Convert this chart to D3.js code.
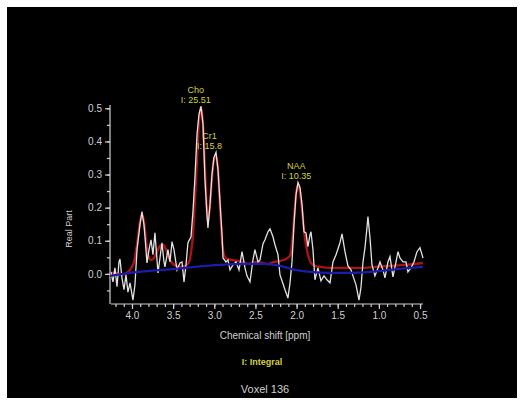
<!DOCTYPE html>
<html>
<head>
<meta charset="utf-8">
<script src="https://cdn.jsdelivr.net/npm/d3@7"></script>
<style>
  body { margin: 0; background: #ffffff; }
  text { font-family: "Liberation Sans", Arial, sans-serif; }
</style>
</head>
<body>
<div id="chart"></div>
<script>
// measured spectrum [ppm, real part]
var measured = [
  [4.255, 0.006], [4.231, -0.024], [4.207, 0.018], [4.182, -0.039], [4.158, 0.036],
  [4.146, 0.045], [4.122, -0.012], [4.097, -0.048], [4.073, -0.003], [4.049, -0.055],
  [4.024, -0.027], [3.988, -0.079], [3.964, -0.033], [3.939, 0.073], [3.903, 0.148],
  [3.879, 0.188], [3.854, 0.148], [3.842, 0.112], [3.818, 0.033], [3.793, 0.073],
  [3.769, 0.103], [3.745, 0.058], [3.721, 0.124], [3.696, 0.042], [3.684, 0.003],
  [3.660, 0.048], [3.636, 0.094], [3.611, 0.036], [3.599, 0.021], [3.563, 0.073],
  [3.538, 0.036], [3.514, 0.097], [3.490, 0.073], [3.453, 0.012], [3.417, 0.033],
  [3.392, 0.036], [3.368, -0.024], [3.344, 0.027], [3.320, 0.094], [3.283, 0.112],
  [3.259, 0.188], [3.235, 0.291], [3.210, 0.421], [3.186, 0.482], [3.162, 0.506],
  [3.137, 0.452], [3.113, 0.285], [3.089, 0.179], [3.077, 0.139], [3.052, 0.209],
  [3.028, 0.300], [3.004, 0.352], [2.979, 0.367], [2.955, 0.315], [2.931, 0.218],
  [2.906, 0.118], [2.894, 0.048], [2.858, 0.036], [2.834, 0.042], [2.809, 0.012],
  [2.773, 0.027], [2.736, 0.036], [2.700, 0.012], [2.663, 0.067], [2.627, 0.018],
  [2.603, -0.006], [2.566, -0.024], [2.530, 0.042], [2.506, 0.073], [2.469, 0.036],
  [2.445, 0.042], [2.408, 0.091], [2.384, 0.103], [2.348, 0.127], [2.323, 0.136],
  [2.287, 0.112], [2.263, 0.088], [2.226, 0.058], [2.202, -0.003], [2.165, -0.030],
  [2.141, -0.048], [2.105, -0.073], [2.080, -0.027], [2.056, 0.036], [2.032, 0.148],
  [2.007, 0.239], [1.983, 0.276], [1.959, 0.261], [1.934, 0.209], [1.910, 0.127],
  [1.886, 0.124], [1.862, 0.082], [1.837, 0.118], [1.825, 0.127], [1.801, 0.073],
  [1.777, -0.018], [1.740, 0.018], [1.704, -0.021], [1.667, -0.006], [1.631, -0.018],
  [1.594, -0.027], [1.558, 0.036], [1.521, 0.058], [1.473, 0.094], [1.448, 0.121],
  [1.412, 0.067], [1.376, 0.024], [1.339, 0.012], [1.315, -0.006], [1.278, -0.033],
  [1.242, -0.079], [1.218, -0.042], [1.193, 0.036], [1.169, 0.079], [1.145, 0.139],
  [1.133, 0.173], [1.108, 0.109], [1.084, 0.027], [1.048, -0.006], [1.011, 0.018],
  [0.987, 0.036], [0.950, 0.012], [0.926, -0.012], [0.890, 0.036], [0.865, 0.052],
  [0.829, -0.009], [0.792, 0.036], [0.768, 0.067], [0.744, 0.048], [0.707, 0.036],
  [0.671, 0.036], [0.647, 0.006], [0.610, 0.018], [0.574, 0.036], [0.537, 0.067],
  [0.501, 0.079], [0.476, 0.058], [0.464, 0.048]
];

// fitted spectrum
var fitted = [
  [4.267, 0.003], [4.207, 0.003], [4.146, -0.003], [4.085, 0.000], [4.024, 0.012],
  [3.976, 0.036], [3.939, 0.088], [3.903, 0.158], [3.879, 0.179], [3.854, 0.158],
  [3.830, 0.103], [3.806, 0.058], [3.769, 0.042], [3.733, 0.048], [3.696, 0.067],
  [3.660, 0.085], [3.623, 0.088], [3.587, 0.073], [3.550, 0.048], [3.514, 0.033],
  [3.465, 0.024], [3.417, 0.021], [3.356, 0.024], [3.307, 0.036], [3.283, 0.064],
  [3.259, 0.118], [3.235, 0.224], [3.210, 0.345], [3.186, 0.461], [3.162, 0.503],
  [3.137, 0.452], [3.113, 0.315], [3.089, 0.188], [3.077, 0.158], [3.052, 0.209],
  [3.028, 0.291], [3.004, 0.345], [2.979, 0.358], [2.955, 0.315], [2.931, 0.209],
  [2.906, 0.103], [2.882, 0.058], [2.846, 0.045], [2.785, 0.042], [2.712, 0.039],
  [2.639, 0.033], [2.566, 0.030], [2.493, 0.036], [2.420, 0.033], [2.348, 0.030],
  [2.275, 0.036], [2.202, 0.039], [2.129, 0.045], [2.080, 0.055], [2.056, 0.088],
  [2.032, 0.164], [2.007, 0.239], [1.983, 0.270], [1.959, 0.248], [1.934, 0.194],
  [1.910, 0.133], [1.886, 0.088], [1.862, 0.058], [1.825, 0.033], [1.777, 0.024],
  [1.716, 0.021], [1.594, 0.018], [1.412, 0.018], [1.230, 0.018], [1.048, 0.021],
  [0.865, 0.024], [0.683, 0.027], [0.561, 0.030], [0.464, 0.033]
];

// baseline
var baseline = [
  [4.267, -0.006], [4.024, 0.003], [3.781, 0.009], [3.477, 0.015], [3.235, 0.021],
  [2.931, 0.027], [2.627, 0.030], [2.384, 0.030], [2.202, 0.024], [2.019, 0.012],
  [1.837, 0.006], [1.594, 0.003], [1.351, 0.003], [1.108, 0.006], [0.865, 0.012],
  [0.622, 0.018], [0.464, 0.021]
];

// metabolite labels
var peakNames = ['Cho', 'Cr1', 'NAA'];
var peakShifts = [3.19, 3.01, 1.98];
var peakHeights = [0.506, 0.367, 0.276];
var peakIntegrals = ['25.51', '15.8', '10.35'];

var xTicks = [4.0, 3.5, 3.0, 2.5, 2.0, 1.5, 1.0, 0.5];
var yTicks = [0.0, 0.1, 0.2, 0.3, 0.4, 0.5];

var W = 521, H = 400;

var svg = d3.select('#chart').append('svg')
    .attr('width', W)
    .attr('height', H);

svg.append('rect')
    .attr('x', 7)
    .attr('y', 7)
    .attr('width', W - 11)
    .attr('height', H - 9)
    .style('fill', '#000000');

var xScale = d3.scaleLinear().domain([4.255, 0.464]).range([111, 423]),
    yScale = d3.scaleLinear().domain([-0.091, 0.51]).range([304, 105]);

var axisColour = '#d0d0d0';

// x axis: minor ticks every 0.1, major every 0.5
var xMinor = d3.range(42, 4, -1).map(function(d) { return d / 10; });
var xAxisMinor = d3.axisBottom(xScale).tickValues(xMinor).tickSize(3).tickFormat('');
var xAxis = d3.axisBottom(xScale).tickValues(xTicks).tickSize(5).tickFormat(d3.format('.1f'));

svg.append('g')
    .attr('class', 'axis')
    .attr('transform', 'translate(0,304)')
    .call(xAxisMinor);
svg.append('g')
    .attr('class', 'axis')
    .attr('transform', 'translate(0,304)')
    .call(xAxis);

// y axis: minor ticks every 0.05
var yMinor = d3.range(-1, 11).map(function(d) { return d * 0.05; });
var yAxisMinor = d3.axisLeft(yScale).tickValues(yMinor).tickSize(3).tickFormat('');
var yAxis = d3.axisLeft(yScale).tickValues(yTicks).tickSize(5).tickFormat(d3.format('.1f'));

svg.append('g')
    .attr('class', 'axis')
    .attr('transform', 'translate(110,0)')
    .call(yAxisMinor);
svg.append('g')
    .attr('class', 'axis')
    .attr('transform', 'translate(110,0)')
    .call(yAxis);

svg.selectAll('.axis path').remove();
svg.selectAll('.axis line')
    .style('stroke', axisColour)
    .style('stroke-width', 1.2);
svg.selectAll('.axis text')
    .style('fill', axisColour)
    .style('font-size', '10px');

// plain axis lines without end caps
svg.append('line')
    .attr('x1', xScale.range()[0]).attr('x2', xScale.range()[1])
    .attr('y1', 304).attr('y2', 304)
    .style('stroke', axisColour).style('stroke-width', 1.2);
svg.append('line')
    .attr('x1', 110).attr('x2', 110)
    .attr('y1', yScale.range()[0]).attr('y2', yScale.range()[1])
    .style('stroke', axisColour).style('stroke-width', 1.2);

var line = d3.line()
    .x(function(d) { return xScale(d[0]); })
    .y(function(d) { return yScale(d[1]); });

var smooth = d3.line()
    .curve(d3.curveMonotoneX)
    .x(function(d) { return xScale(d[0]); })
    .y(function(d) { return yScale(d[1]); });

svg.append('path')
    .datum(fitted)
    .attr('d', smooth)
    .style('fill', 'none')
    .style('stroke', '#a81414')
    .style('stroke-width', 2.4);

svg.append('path')
    .datum(measured)
    .attr('d', line)
    .style('fill', 'none')
    .style('stroke', '#e2e2e2')
    .style('stroke-width', 1.3);

svg.append('path')
    .datum(baseline)
    .attr('d', smooth)
    .style('fill', 'none')
    .style('stroke', '#1c1caa')
    .style('stroke-width', 2.2);

// peak labels
var labelOffsets = [-3, -4, -2];
var labels = svg.selectAll('.peak')
    .data(peakNames)
  .enter().append('g')
    .attr('class', 'peak')
    .attr('transform', function(d, i) {
      return 'translate(' + (xScale(peakShifts[i]) + labelOffsets[i]) + ',' + (yScale(peakHeights[i]) - 3) + ')';
    });

labels.append('text')
    .attr('y', -10)
    .style('text-anchor', 'middle')
    .style('font-size', '9px')
    .style('fill', '#d2d23c')
    .text(function(d) { return d; });

labels.append('text')
    .attr('y', 0)
    .style('text-anchor', 'middle')
    .style('font-size', '9px')
    .style('fill', '#d2d23c')
    .text(function(d, i) { return 'I: ' + peakIntegrals[i]; });

svg.append('text')
    .attr('transform', 'translate(72,229) rotate(-90)')
    .style('text-anchor', 'middle')
    .style('font-size', '9px')
    .style('fill', axisColour)
    .text('Real Part');

svg.append('text')
    .attr('x', 265)
    .attr('y', 339)
    .style('text-anchor', 'middle')
    .style('font-size', '10px')
    .style('fill', axisColour)
    .text('Chemical shift [ppm]');

svg.append('text')
    .attr('x', 262)
    .attr('y', 365)
    .style('text-anchor', 'middle')
    .style('font-size', '9px')
    .style('font-weight', 'bold')
    .style('fill', '#d2d23c')
    .text('I: Integral');

svg.append('text')
    .attr('x', 265)
    .attr('y', 393)
    .style('text-anchor', 'middle')
    .style('font-size', '11px')
    .style('fill', axisColour)
    .text('Voxel 136');
</script>
</body>
</html>
